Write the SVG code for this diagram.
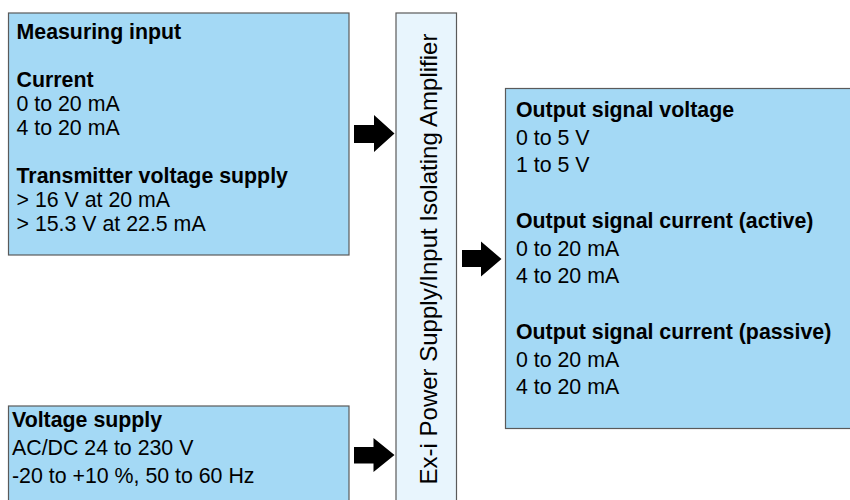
<svg xmlns="http://www.w3.org/2000/svg" width="850" height="500" viewBox="0 0 850 500">
  <style>
    .box { fill: #A4D9F5; stroke: #5a5a5a; stroke-width: 1.2; }
    .amp { fill: #E8F5FD; stroke: #5a5a5a; stroke-width: 1.2; }
    text { font-family: "Liberation Sans", Arial, sans-serif; font-size: 21.33px; fill: #000; }
    .b { font-weight: bold; }
    .vt { font-size: 24px; }
    .arrow { fill: #000; stroke: none; }
  </style>
  <rect width="850" height="500" fill="#fff"/>

  <g id="measuring-input">
    <rect class="box" x="8.5" y="13" width="340.5" height="242"/>
    <text class="b" x="16.5" y="39">Measuring input</text>
    <text class="b" x="16.5" y="87">Current</text>
    <text x="16.5" y="111">0 to 20 mA</text>
    <text x="16.5" y="135">4 to 20 mA</text>
    <text class="b" x="16.5" y="183">Transmitter voltage supply</text>
    <text x="16.5" y="207">&gt; 16 V at 20 mA</text>
    <text x="16.5" y="231">&gt; 15.3 V at 22.5 mA</text>
  </g>

  <g id="voltage-supply">
    <rect class="box" x="8.5" y="406" width="340.5" height="110"/>
    <text class="b" x="12" y="427">Voltage supply</text>
    <text x="12" y="455">AC/DC 24 to 230 V</text>
    <text x="12" y="482.5">-20 to +10 %, 50 to 60 Hz</text>
  </g>

  <g id="isolating-amplifier">
    <rect class="amp" x="396" y="13" width="60.5" height="500"/>
    <text class="vt" x="0" y="0" text-anchor="middle" transform="translate(436.5 259) rotate(-90)">Ex-i Power Supply/Input Isolating Amplifier</text>
  </g>

  <g id="output-signal">
    <rect class="box" x="505.5" y="88.5" width="360" height="340"/>
    <text class="b" x="516" y="116.5">Output signal voltage</text>
    <text x="516" y="144.5">0 to 5 V</text>
    <text x="516" y="172">1 to 5 V</text>
    <text class="b" x="516" y="227.5">Output signal current (active)</text>
    <text x="516" y="255.5">0 to 20 mA</text>
    <text x="516" y="283">4 to 20 mA</text>
    <text class="b" x="516" y="338.5">Output signal current (passive)</text>
    <text x="516" y="366.5">0 to 20 mA</text>
    <text x="516" y="394">4 to 20 mA</text>
  </g>

  <g id="connectors">
    <polygon class="arrow" points="354,125 374,125 374,115 394.5,133.5 374,152 374,143 354,143"/>
    <polygon class="arrow" points="462,250 481,250 481,241.5 501.5,259 481,276.5 481,267 462,267"/>
    <polygon class="arrow" points="354,447 373.5,447 373.5,438 394.5,455 373.5,472 373.5,463.5 354,463.5"/>
  </g>
</svg>
